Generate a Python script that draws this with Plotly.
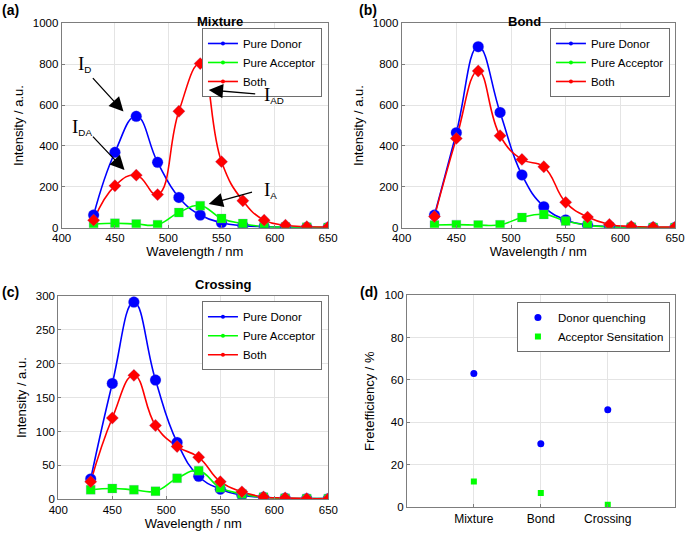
import plotly.graph_objects as go

# wavelength grid (nm)
wl = [430, 450, 470, 490, 510, 530, 550, 570, 590, 610, 630, 650]

# panel (a) Mixture
mix_donor = [62, 369, 545, 320, 148, 62, 24, 10, 5, 2, 1, 1]
mix_acceptor = [18, 22, 18, 15, 74, 108, 45, 20, 5, 3, 2, 1]
mix_both = [37, 205, 257, 162, 570, 803, 323, 132, 37, 12, 5, 3]

# panel (b) Bond
bond_donor = [62, 465, 886, 564, 258, 103, 38, 13, 5, 2, 1, 1]
bond_acceptor = [13, 15, 13, 14, 50, 65, 33, 12, 4, 2, 1, 1]
bond_both = [55, 437, 767, 450, 334, 298, 124, 52, 16, 6, 3, 3]

# panel (c) Crossing
cross_donor = [30, 171, 291, 176, 84, 34, 15, 6, 3, 1.5, 1, 1]
cross_acceptor = [14, 16, 14, 12, 31, 42, 17, 8, 3, 1.5, 1, 1]
cross_both = [26, 120, 183, 109, 78, 62, 26, 11, 3.5, 2, 1, 1]

# panel (d) FRET efficiency
samples = ["Mixture", "Bond", "Crossing"]
sample_pos = [1, 2, 3]
donor_quench = [63, 30, 46]
acceptor_sens = [12.2, 6.8, 1.2]

BLUE = "rgb(0,0,255)"
GREEN = "rgb(0,255,0)"
RED = "rgb(255,0,0)"
FONT = "Liberation Sans, Arial, sans-serif"
AXC = "rgb(125,125,125)"
GRIDC = "rgb(228,228,228)"

fig = go.Figure()

panels = [
    ("x", "y", "legend", mix_donor, mix_acceptor, mix_both),
    ("x2", "y2", "legend2", bond_donor, bond_acceptor, bond_both),
    ("x3", "y3", "legend3", cross_donor, cross_acceptor, cross_both),
]

for xa, ya, lg, dn, ac, bo in panels:
    series = [
        ("Pure Donor", dn, BLUE, "circle", 11),
        ("Pure Acceptor", ac, GREEN, "square", 9),
        ("Both", bo, RED, "diamond", 9.5),
    ]
    for name, vals, col, sym, sz in series:
        fig.add_trace(go.Scatter(
            x=wl, y=vals, mode="lines+markers", name=name,
            line=dict(color=col, width=1.6, shape="spline", smoothing=1.3),
            marker=dict(color=col, size=4),
            xaxis=xa, yaxis=ya, legend=lg))
    for name, vals, col, sym, sz in series:
        fig.add_trace(go.Scatter(
            x=wl, y=vals, mode="markers", showlegend=False,
            marker=dict(color=col, size=sz, symbol=sym,
                        line=dict(color="rgba(130,130,210,0.5)", width=0.5)),
            xaxis=xa, yaxis=ya))

fig.add_trace(go.Scatter(
    x=sample_pos, y=donor_quench, mode="markers", name="Donor quenching",
    marker=dict(color=BLUE, size=7, symbol="circle"),
    xaxis="x4", yaxis="y4", legend="legend4"))
fig.add_trace(go.Scatter(
    x=sample_pos, y=acceptor_sens, mode="markers", name="Acceptor Sensitation",
    marker=dict(color=GREEN, size=6, symbol="square"),
    xaxis="x4", yaxis="y4", legend="legend4"))

base_ax = dict(showline=True, linecolor=AXC, linewidth=1, mirror=True,
               showgrid=True, gridcolor=GRIDC, gridwidth=1, zeroline=False,
               ticks="inside", ticklen=3, tickcolor=AXC, automargin=False,
               tickfont=dict(family=FONT, size=11.5, color="black"))

title_font = dict(family=FONT, size=13, color="black")
wl_ax = dict(base_ax, range=[400, 650], tickvals=[400, 450, 500, 550, 600, 650],
             title=dict(text="Wavelength / nm", font=title_font, standoff=3))
int_title = dict(text="Intensity / a.u.", font=title_font, standoff=6)

fig.update_layout(
    template="none",
    width=685, height=535,
    margin=dict(l=0, r=0, t=0, b=0, pad=0, autoexpand=False),
    paper_bgcolor="white", plot_bgcolor="white",
    font=dict(family=FONT, size=13, color="black"),
    xaxis=dict(wl_ax, domain=[0.090, 0.479], anchor="y"),
    yaxis=dict(base_ax, domain=[0.5744, 0.9564], anchor="x", range=[0, 1000],
               tickvals=[0, 200, 400, 600, 800, 1000], title=int_title),
    xaxis2=dict(wl_ax, domain=[0.5864, 0.9854], anchor="y2"),
    yaxis2=dict(base_ax, domain=[0.5744, 0.9564], anchor="x2", range=[0, 1000],
                tickvals=[0, 200, 400, 600, 800, 1000], title=int_title),
    xaxis3=dict(wl_ax, domain=[0.0851, 0.4793], anchor="y3"),
    yaxis3=dict(base_ax, domain=[0.0667, 0.4467], anchor="x3", range=[0, 300],
                tickvals=[0, 50, 100, 150, 200, 250, 300], title=int_title),
    xaxis4=dict(base_ax, domain=[0.594, 0.985], anchor="y4", range=[0, 4],
                tickvals=sample_pos, ticktext=samples,
                tickfont=dict(family=FONT, size=12, color="black")),
    yaxis4=dict(base_ax, domain=[0.0517, 0.4486], anchor="x4", range=[0, 100],
                tickvals=[0, 20, 40, 60, 80, 100],
                title=dict(text="Fretefficiency / %", font=title_font, standoff=6)),
)

leg = dict(bgcolor="white", bordercolor="rgb(110,110,110)", borderwidth=1,
           font=dict(family=FONT, size=11.5, color="black"),
           xanchor="right", yanchor="top", tracegroupgap=0, itemwidth=30)
fig.update_layout(
    legend=dict(leg, x=0.470, y=0.9477),
    legend2=dict(leg, x=0.978, y=0.9477),
    legend3=dict(leg, x=0.470, y=0.437),
    legend4=dict(leg, x=0.978, y=0.4355),
)

# panel titles and letters
for txt, xc, yc in [("Mixture", 0.285, 0.978), ("Bond", 0.793, 0.978), ("Crossing", 0.282, 0.469)]:
    fig.add_annotation(text="<b>%s</b>" % txt, x=xc, y=yc, xref="paper", yref="paper",
                       showarrow=False, font=dict(family=FONT, size=13))
for txt, xc, yc in [("(a)", 0.0, 1.0), ("(b)", 0.521, 1.0), ("(c)", 0.0, 0.473), ("(d)", 0.522, 0.473)]:
    fig.add_annotation(text="<b>%s</b>" % txt, x=xc, y=yc, xref="paper", yref="paper",
                       xanchor="left", yanchor="top", showarrow=False,
                       font=dict(family=FONT, size=14))

# arrows and labels in panel (a)
arrows = [(458, 568, 428, 739), (459, 282, 428, 453), (538, 674, 583, 654), (538, 116, 580, 176)]
for hx, hy, tx, ty in arrows:
    fig.add_annotation(x=hx, y=hy, ax=tx, ay=ty, xref="x", yref="y", axref="x", ayref="y",
                       text="", showarrow=True, arrowhead=2, arrowsize=2.2, arrowwidth=1.3,
                       arrowcolor="black")
serif = "font-family:Liberation Serif;font-size:19px"
labels = [("D", 421, 800), ("DA", 419, 492), ("AD", 599, 650), ("A", 596, 184)]
for sub, lx, ly in labels:
    fig.add_annotation(text="<span style='%s'>I</span><sub>%s</sub>" % (serif, sub),
                       x=lx, y=ly, xref="x", yref="y", showarrow=False,
                       font=dict(family=FONT, size=14))

fig.write_html("out.html", config={"displayModeBar": False},
               post_script="document.body.style.margin='0';")
